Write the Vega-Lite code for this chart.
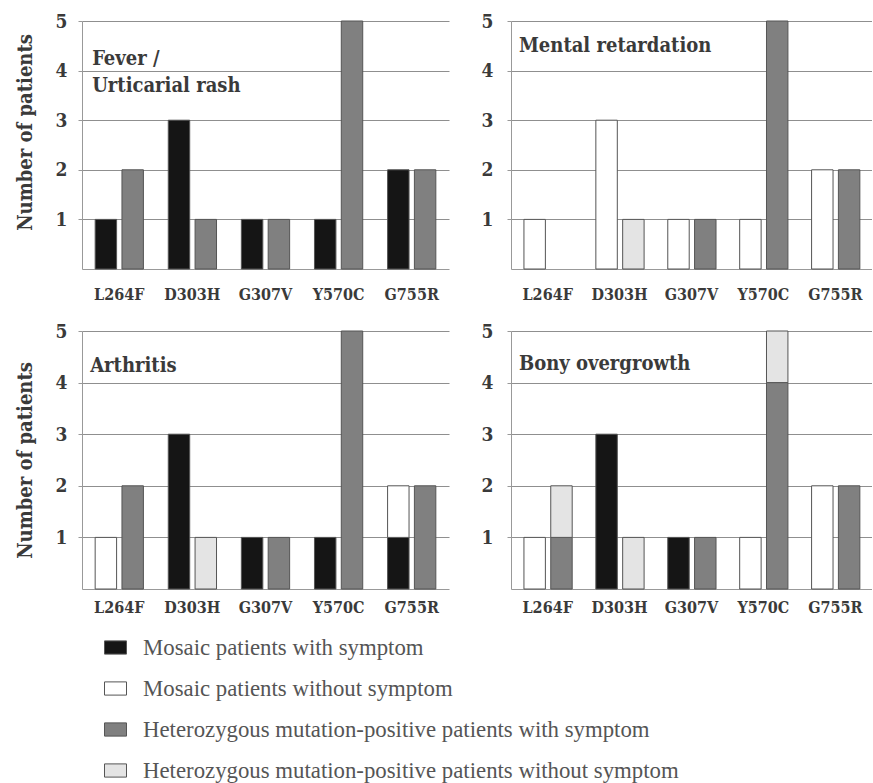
{
  "$schema": "https://vega.github.io/schema/vega-lite/v6.json",
  "background": "white",
  "padding": {"left": 15, "top": 12, "right": 0, "bottom": 0},
  "datasets": {
    "bars": [
      {"panel": "fever", "mutation": "L264F", "group": "Mosaic", "status": "Mosaic patients with symptom", "n": 1},
      {"panel": "fever", "mutation": "L264F", "group": "Heterozygous", "status": "Heterozygous mutation-positive patients with symptom", "n": 2},
      {"panel": "fever", "mutation": "D303H", "group": "Mosaic", "status": "Mosaic patients with symptom", "n": 3},
      {"panel": "fever", "mutation": "D303H", "group": "Heterozygous", "status": "Heterozygous mutation-positive patients with symptom", "n": 1},
      {"panel": "fever", "mutation": "G307V", "group": "Mosaic", "status": "Mosaic patients with symptom", "n": 1},
      {"panel": "fever", "mutation": "G307V", "group": "Heterozygous", "status": "Heterozygous mutation-positive patients with symptom", "n": 1},
      {"panel": "fever", "mutation": "Y570C", "group": "Mosaic", "status": "Mosaic patients with symptom", "n": 1},
      {"panel": "fever", "mutation": "Y570C", "group": "Heterozygous", "status": "Heterozygous mutation-positive patients with symptom", "n": 5},
      {"panel": "fever", "mutation": "G755R", "group": "Mosaic", "status": "Mosaic patients with symptom", "n": 2},
      {"panel": "fever", "mutation": "G755R", "group": "Heterozygous", "status": "Heterozygous mutation-positive patients with symptom", "n": 2},

      {"panel": "mental", "mutation": "L264F", "group": "Mosaic", "status": "Mosaic patients without symptom", "n": 1},
      {"panel": "mental", "mutation": "D303H", "group": "Mosaic", "status": "Mosaic patients without symptom", "n": 3},
      {"panel": "mental", "mutation": "D303H", "group": "Heterozygous", "status": "Heterozygous mutation-positive patients without symptom", "n": 1},
      {"panel": "mental", "mutation": "G307V", "group": "Mosaic", "status": "Mosaic patients without symptom", "n": 1},
      {"panel": "mental", "mutation": "G307V", "group": "Heterozygous", "status": "Heterozygous mutation-positive patients with symptom", "n": 1},
      {"panel": "mental", "mutation": "Y570C", "group": "Mosaic", "status": "Mosaic patients without symptom", "n": 1},
      {"panel": "mental", "mutation": "Y570C", "group": "Heterozygous", "status": "Heterozygous mutation-positive patients with symptom", "n": 5},
      {"panel": "mental", "mutation": "G755R", "group": "Mosaic", "status": "Mosaic patients without symptom", "n": 2},
      {"panel": "mental", "mutation": "G755R", "group": "Heterozygous", "status": "Heterozygous mutation-positive patients with symptom", "n": 2},

      {"panel": "arthritis", "mutation": "L264F", "group": "Mosaic", "status": "Mosaic patients without symptom", "n": 1},
      {"panel": "arthritis", "mutation": "L264F", "group": "Heterozygous", "status": "Heterozygous mutation-positive patients with symptom", "n": 2},
      {"panel": "arthritis", "mutation": "D303H", "group": "Mosaic", "status": "Mosaic patients with symptom", "n": 3},
      {"panel": "arthritis", "mutation": "D303H", "group": "Heterozygous", "status": "Heterozygous mutation-positive patients without symptom", "n": 1},
      {"panel": "arthritis", "mutation": "G307V", "group": "Mosaic", "status": "Mosaic patients with symptom", "n": 1},
      {"panel": "arthritis", "mutation": "G307V", "group": "Heterozygous", "status": "Heterozygous mutation-positive patients with symptom", "n": 1},
      {"panel": "arthritis", "mutation": "Y570C", "group": "Mosaic", "status": "Mosaic patients with symptom", "n": 1},
      {"panel": "arthritis", "mutation": "Y570C", "group": "Heterozygous", "status": "Heterozygous mutation-positive patients with symptom", "n": 5},
      {"panel": "arthritis", "mutation": "G755R", "group": "Mosaic", "status": "Mosaic patients with symptom", "n": 1},
      {"panel": "arthritis", "mutation": "G755R", "group": "Mosaic", "status": "Mosaic patients without symptom", "n": 1},
      {"panel": "arthritis", "mutation": "G755R", "group": "Heterozygous", "status": "Heterozygous mutation-positive patients with symptom", "n": 2},

      {"panel": "bony", "mutation": "L264F", "group": "Mosaic", "status": "Mosaic patients without symptom", "n": 1},
      {"panel": "bony", "mutation": "L264F", "group": "Heterozygous", "status": "Heterozygous mutation-positive patients with symptom", "n": 1},
      {"panel": "bony", "mutation": "L264F", "group": "Heterozygous", "status": "Heterozygous mutation-positive patients without symptom", "n": 1},
      {"panel": "bony", "mutation": "D303H", "group": "Mosaic", "status": "Mosaic patients with symptom", "n": 3},
      {"panel": "bony", "mutation": "D303H", "group": "Heterozygous", "status": "Heterozygous mutation-positive patients without symptom", "n": 1},
      {"panel": "bony", "mutation": "G307V", "group": "Mosaic", "status": "Mosaic patients with symptom", "n": 1},
      {"panel": "bony", "mutation": "G307V", "group": "Heterozygous", "status": "Heterozygous mutation-positive patients with symptom", "n": 1},
      {"panel": "bony", "mutation": "Y570C", "group": "Mosaic", "status": "Mosaic patients without symptom", "n": 1},
      {"panel": "bony", "mutation": "Y570C", "group": "Heterozygous", "status": "Heterozygous mutation-positive patients with symptom", "n": 4},
      {"panel": "bony", "mutation": "Y570C", "group": "Heterozygous", "status": "Heterozygous mutation-positive patients without symptom", "n": 1},
      {"panel": "bony", "mutation": "G755R", "group": "Mosaic", "status": "Mosaic patients without symptom", "n": 2},
      {"panel": "bony", "mutation": "G755R", "group": "Heterozygous", "status": "Heterozygous mutation-positive patients with symptom", "n": 2}
    ],
    "titles": [
      {"panel": "fever", "label": "Fever /\nUrticarial rash"},
      {"panel": "mental", "label": "Mental retardation"},
      {"panel": "arthritis", "label": "Arthritis"},
      {"panel": "bony", "label": "Bony overgrowth"}
    ]
  },
  "config": {
    "font": "Liberation Serif",
    "view": {"stroke": null},
    "axis": {
      "labelFont": "DejaVu Serif Condensed",
      "titleFont": "DejaVu Serif Condensed",
      "labelFontWeight": "bold",
      "titleFontWeight": "bold",
      "labelColor": "#3a3a3a",
      "titleColor": "#3a3a3a",
      "domainColor": "#999999",
      "gridColor": "#8f8f8f",
      "tickColor": "#999999"
    },
    "legend": {
      "labelFont": "Liberation Serif",
      "labelFontSize": 22.8,
      "labelColor": "#555555",
      "labelLimit": 700
    },
    "text": {"font": "DejaVu Serif Condensed"}
  },
  "spacing": 20,
  "vconcat": [
    {
      "spacing": 32,
      "hconcat": [
        {
          "width": 367, "height": 248,
          "layer": [
            {
              "data": {"name": "bars"},
              "transform": [{"filter": "datum.panel === 'fever'"}],
              "mark": {"type": "bar", "stroke": "#555555", "strokeWidth": 1},
              "encoding": {
                "x": {"field": "mutation", "type": "nominal", "sort": ["L264F", "D303H", "G307V", "Y570C", "G755R"], "scale": {"paddingInner": 0.34, "paddingOuter": 0.18},
                  "axis": {"title": null, "labelAngle": 0, "ticks": false, "labelFontSize": 16, "labelPadding": 17, "labelBaseline": "top"}},
                "xOffset": {"field": "group", "type": "nominal", "scale": {"domain": ["Mosaic", "Heterozygous"], "paddingInner": 0.2}},
                "y": {"field": "n", "type": "quantitative", "stack": "zero", "scale": {"domain": [0, 5]},
                  "axis": {"title": "Number of patients", "titleFontSize": 20, "titlePadding": 20, "titleY": 111, "values": [1, 2, 3, 4, 5], "labelFontSize": 19, "tickSize": 4, "labelPadding": 11, "grid": true}},
                "color": {"field": "status", "type": "nominal",
                  "scale": {"domain": ["Mosaic patients with symptom", "Mosaic patients without symptom", "Heterozygous mutation-positive patients with symptom", "Heterozygous mutation-positive patients without symptom"],
                    "range": ["#151515", "#ffffff", "#808080", "#e4e4e4"]},
                  "legend": {"title": null, "orient": "none", "legendX": 22, "legendY": 615, "direction": "vertical",
                    "symbolType": "M-1,-0.6H1V0.6H-1Z", "symbolSize": 484, "symbolStrokeColor": "#777777", "symbolStrokeWidth": 1, "labelOffset": 16, "rowPadding": 17}},
                "order": {"field": "status"}
              }
            },
            {
              "data": {"name": "titles"},
              "transform": [{"filter": "datum.panel === 'fever'"}],
              "mark": {"type": "text", "align": "left", "baseline": "top", "fontSize": 20, "fontWeight": "bold", "color": "#3a3a3a", "lineBreak": "\n", "lineHeight": 27, "dx": -3},
              "encoding": {"x": {"datum": "L264F", "bandPosition": 0}, "y": {"datum": 4.44}, "text": {"field": "label"}}
            }
          ]
        },
        {
          "width": 361, "height": 248,
          "layer": [
            {
              "data": {"name": "bars"},
              "transform": [{"filter": "datum.panel === 'mental'"}],
              "mark": {"type": "bar", "stroke": "#555555", "strokeWidth": 1},
              "encoding": {
                "x": {"field": "mutation", "type": "nominal", "sort": ["L264F", "D303H", "G307V", "Y570C", "G755R"], "scale": {"paddingInner": 0.34, "paddingOuter": 0.18},
                  "axis": {"title": null, "labelAngle": 0, "ticks": false, "labelFontSize": 16, "labelPadding": 17, "labelBaseline": "top"}},
                "xOffset": {"field": "group", "type": "nominal", "scale": {"domain": ["Mosaic", "Heterozygous"], "paddingInner": 0.2}},
                "y": {"field": "n", "type": "quantitative", "stack": "zero", "scale": {"domain": [0, 5]},
                  "axis": {"title": null, "values": [1, 2, 3, 4, 5], "labelFontSize": 19, "tickSize": 4, "labelPadding": 14, "grid": true}},
                "color": {"field": "status", "type": "nominal",
                  "scale": {"domain": ["Mosaic patients with symptom", "Mosaic patients without symptom", "Heterozygous mutation-positive patients with symptom", "Heterozygous mutation-positive patients without symptom"],
                    "range": ["#151515", "#ffffff", "#808080", "#e4e4e4"]}},
                "order": {"field": "status"}
              }
            },
            {
              "data": {"name": "titles"},
              "transform": [{"filter": "datum.panel === 'mental'"}],
              "mark": {"type": "text", "align": "left", "baseline": "top", "fontSize": 20, "fontWeight": "bold", "color": "#3a3a3a", "dx": -5},
              "encoding": {"x": {"datum": "L264F", "bandPosition": 0}, "y": {"datum": 4.69}, "text": {"field": "label"}}
            }
          ]
        }
      ]
    },
    {
      "spacing": 32,
      "hconcat": [
        {
          "width": 367, "height": 258,
          "layer": [
            {
              "data": {"name": "bars"},
              "transform": [{"filter": "datum.panel === 'arthritis'"}],
              "mark": {"type": "bar", "stroke": "#555555", "strokeWidth": 1},
              "encoding": {
                "x": {"field": "mutation", "type": "nominal", "sort": ["L264F", "D303H", "G307V", "Y570C", "G755R"], "scale": {"paddingInner": 0.34, "paddingOuter": 0.18},
                  "axis": {"title": null, "labelAngle": 0, "ticks": false, "labelFontSize": 16, "labelPadding": 10, "labelBaseline": "top"}},
                "xOffset": {"field": "group", "type": "nominal", "scale": {"domain": ["Mosaic", "Heterozygous"], "paddingInner": 0.2}},
                "y": {"field": "n", "type": "quantitative", "stack": "zero", "scale": {"domain": [0, 5]},
                  "axis": {"title": "Number of patients", "titleFontSize": 20, "titlePadding": 20, "values": [1, 2, 3, 4, 5], "labelFontSize": 19, "tickSize": 4, "labelPadding": 11, "grid": true}},
                "color": {"field": "status", "type": "nominal",
                  "scale": {"domain": ["Mosaic patients with symptom", "Mosaic patients without symptom", "Heterozygous mutation-positive patients with symptom", "Heterozygous mutation-positive patients without symptom"],
                    "range": ["#151515", "#ffffff", "#808080", "#e4e4e4"]}},
                "order": {"field": "status"}
              }
            },
            {
              "data": {"name": "titles"},
              "transform": [{"filter": "datum.panel === 'arthritis'"}],
              "mark": {"type": "text", "align": "left", "baseline": "top", "fontSize": 20, "fontWeight": "bold", "color": "#3a3a3a", "dx": -5},
              "encoding": {"x": {"datum": "L264F", "bandPosition": 0}, "y": {"datum": 4.52}, "text": {"field": "label"}}
            }
          ]
        },
        {
          "width": 361, "height": 258,
          "layer": [
            {
              "data": {"name": "bars"},
              "transform": [{"filter": "datum.panel === 'bony'"}],
              "mark": {"type": "bar", "stroke": "#555555", "strokeWidth": 1},
              "encoding": {
                "x": {"field": "mutation", "type": "nominal", "sort": ["L264F", "D303H", "G307V", "Y570C", "G755R"], "scale": {"paddingInner": 0.34, "paddingOuter": 0.18},
                  "axis": {"title": null, "labelAngle": 0, "ticks": false, "labelFontSize": 16, "labelPadding": 10, "labelBaseline": "top"}},
                "xOffset": {"field": "group", "type": "nominal", "scale": {"domain": ["Mosaic", "Heterozygous"], "paddingInner": 0.2}},
                "y": {"field": "n", "type": "quantitative", "stack": "zero", "scale": {"domain": [0, 5]},
                  "axis": {"title": null, "values": [1, 2, 3, 4, 5], "labelFontSize": 19, "tickSize": 4, "labelPadding": 14, "grid": true}},
                "color": {"field": "status", "type": "nominal",
                  "scale": {"domain": ["Mosaic patients with symptom", "Mosaic patients without symptom", "Heterozygous mutation-positive patients with symptom", "Heterozygous mutation-positive patients without symptom"],
                    "range": ["#151515", "#ffffff", "#808080", "#e4e4e4"]}},
                "order": {"field": "status"}
              }
            },
            {
              "data": {"name": "titles"},
              "transform": [{"filter": "datum.panel === 'bony'"}],
              "mark": {"type": "text", "align": "left", "baseline": "top", "fontSize": 20, "fontWeight": "bold", "color": "#3a3a3a", "dx": -5},
              "encoding": {"x": {"datum": "L264F", "bandPosition": 0}, "y": {"datum": 4.55}, "text": {"field": "label"}}
            }
          ]
        }
      ]
    }
  ]
}
